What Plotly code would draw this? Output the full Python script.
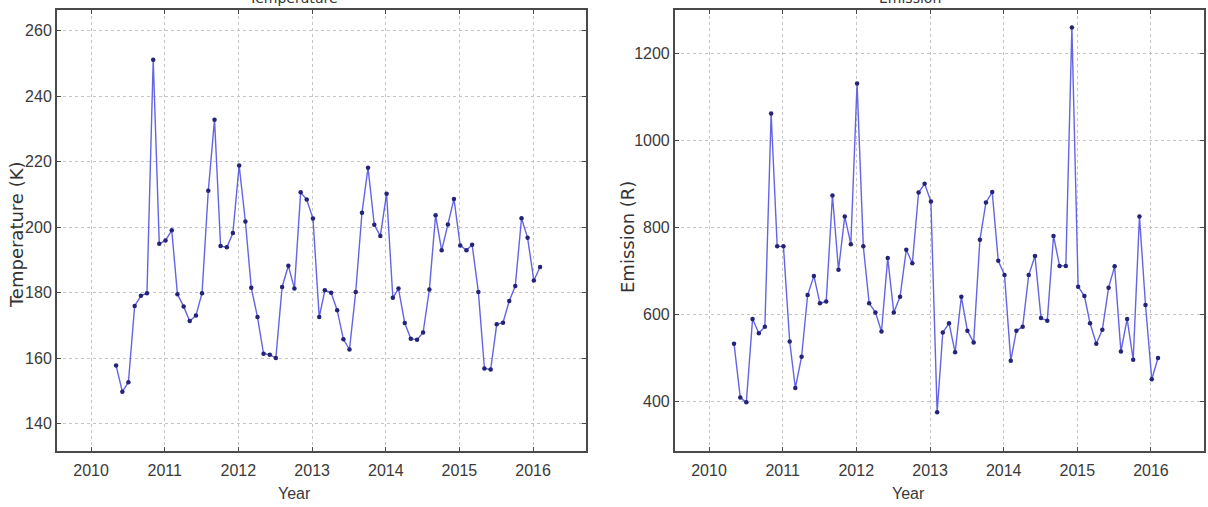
import pandas as pd
import plotly.graph_objects as go

# ---- data (monthly, May 2010 .. Feb 2016) ----
start_month = "2010-05-01"
n_months = 70
months = pd.date_range(start_month, periods=n_months, freq="MS") + pd.Timedelta(days=4)

temperature = [
    157.7, 149.7, 152.6, 175.9, 179.0, 179.8, 251.1, 194.9, 195.9, 199.0,
    179.5, 175.7, 171.3, 173.0, 179.8, 211.1, 232.8, 194.2, 193.8, 198.2,
    218.8, 201.7, 181.5, 172.5, 161.3, 161.0, 160.0, 181.7, 188.2, 181.2,
    210.6, 208.4, 202.6, 172.5, 180.7, 179.9, 174.6, 165.7, 162.6, 180.2,
    204.4, 218.1, 200.7, 197.3, 210.2, 178.4, 181.2, 170.7, 165.9, 165.6,
    167.8, 180.9, 203.6, 192.9, 200.8, 208.6, 194.4, 192.9, 194.6, 180.2,
    156.8, 156.5, 170.3, 170.8, 177.4, 182.0, 202.7, 196.7, 183.7, 187.8,
]

emission = [
    532, 408, 397, 589, 556, 571, 1062, 756, 756, 537,
    430, 502, 644, 688, 625, 629, 873, 702, 825, 761,
    1131, 756, 625, 604, 560, 729, 604, 640, 748, 717,
    880, 900, 859, 374, 558, 579, 512, 640, 562, 535,
    771, 857, 881, 723, 690, 493, 562, 571, 690, 734,
    591, 585, 780, 711, 711, 1260, 663, 642, 579, 532,
    564, 661, 710, 514, 589, 495, 825, 621, 450, 499,
]

year_ticks = [f"{y}-01-01" for y in range(2010, 2017)]
year_labels = [str(y) for y in range(2010, 2017)]
temp_ticks = [140, 160, 180, 200, 220, 240, 260]
emis_ticks = [400, 600, 800, 1000, 1200]

x_range = ["2009-07-16", "2016-09-20"]
temp_range = [131.6, 266.3]
emis_range = [285, 1300]

# ---- styling ----
LINE_COLOR = "rgb(100,100,228)"
MARK_COLOR = "rgb(35,35,120)"
TICK_FONT = dict(family="Liberation Sans Narrow, Liberation Sans, Arial, sans-serif",
                 size=16, color="#3a3a3a")
TITLE_FONT = dict(family="DejaVu Sans, sans-serif", size=18, color="#333333")

fig = go.Figure()

fig.add_trace(go.Scatter(
    x=months, y=temperature, mode="lines+markers",
    line=dict(color=LINE_COLOR, width=1.4),
    marker=dict(color=MARK_COLOR, size=4.5),
    xaxis="x", yaxis="y", showlegend=False,
))
fig.add_trace(go.Scatter(
    x=months, y=emission, mode="lines+markers",
    line=dict(color=LINE_COLOR, width=1.4),
    marker=dict(color=MARK_COLOR, size=4.5),
    xaxis="x2", yaxis="y2", showlegend=False,
))

common_x = dict(
    type="date", range=x_range, tickmode="array",
    tickvals=year_ticks, ticktext=year_labels,
    showgrid=True, gridcolor="#c4c4c4", griddash="dot", gridwidth=1,
    showline=True, linecolor="#4a4a4a", linewidth=2, mirror="ticks",
    ticks="inside", ticklen=4, tickcolor="#4a4a4a",
    tickfont=TICK_FONT, ticklabelstandoff=4, zeroline=False,
)
common_y = dict(
    showgrid=True, gridcolor="#c4c4c4", griddash="dot", gridwidth=1,
    showline=True, linecolor="#4a4a4a", linewidth=2, mirror="ticks",
    ticks="inside", ticklen=4, tickcolor="#4a4a4a",
    tickfont=TICK_FONT, zeroline=False, tickmode="array",
)

L, R, T, B = 57, 2, 10, 56
W, H = 1208, 507
pw = W - L - R
d1 = (587 - L) / pw
d2 = (676 - L) / pw

fig.update_layout(
    width=W, height=H,
    margin=dict(l=L, r=R, t=T, b=B),
    paper_bgcolor="white", plot_bgcolor="white",
    xaxis=dict(domain=[0, d1], anchor="y", **common_x),
    yaxis=dict(domain=[0, 1], anchor="x", range=temp_range,
               tickvals=temp_ticks, ticktext=[str(v) for v in temp_ticks],
               ticklabelstandoff=0, **common_y),
    xaxis2=dict(domain=[d2, 1], anchor="y2", **common_x),
    yaxis2=dict(domain=[0, 1], anchor="x2", range=emis_range,
                tickvals=emis_ticks, ticktext=[str(v) for v in emis_ticks],
                ticklabelstandoff=0, **common_y),
)

def px_x(p):
    return (p - L) / pw

def px_y(p):
    return 1 - (p - T) / (H - T - B)

annotations = [
    # subplot titles (partly cut off at the top, as in the reference)
    dict(text="Temperature", x=px_x(293), y=1, yanchor="bottom", yshift=2,
         xanchor="center", showarrow=False, font=dict(TITLE_FONT, size=14)),
    dict(text="Emission", x=px_x(911), y=1, yanchor="bottom", yshift=2,
         xanchor="center", showarrow=False, font=dict(TITLE_FONT, size=14)),
    # x-axis titles
    dict(text="Year", x=px_x(295), y=px_y(493), xanchor="center", yanchor="middle",
         showarrow=False, font=dict(TICK_FONT, size=16)),
    dict(text="Year", x=px_x(910), y=px_y(493), xanchor="center", yanchor="middle",
         showarrow=False, font=dict(TICK_FONT, size=16)),
    # y-axis titles
    dict(text="Temperature (K)", x=px_x(16), y=px_y(235), xanchor="center", yanchor="middle",
         textangle=-90, showarrow=False, font=TITLE_FONT),
    dict(text="Emission (R)", x=px_x(628), y=px_y(237), xanchor="center", yanchor="middle",
         textangle=-90, showarrow=False, font=TITLE_FONT),
]
for a in annotations:
    a["xref"] = "paper"
    a["yref"] = "paper"
fig.update_layout(annotations=annotations)

fig.write_html(
    "out.html",
    config={"displayModeBar": False},
    post_script="document.body.style.margin='0px';document.body.style.overflow='hidden';",
)
